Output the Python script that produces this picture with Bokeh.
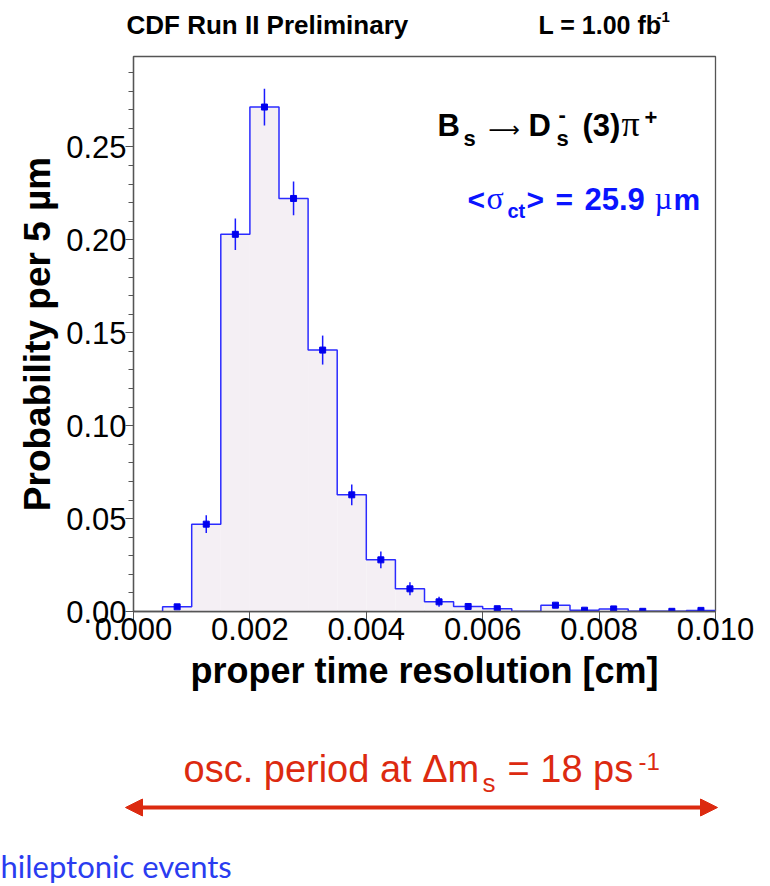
import numpy as np
from bokeh.plotting import figure
from bokeh.layouts import column
from bokeh.models import (Range1d, SingleIntervalTicker, NumeralTickFormatter,
                          Label, Arrow, NormalHead)
from bokeh.embed import file_html
from bokeh.resources import INLINE

# ---------------- data ----------------
bin_low = [0.0005, 0.0010, 0.0015, 0.0020, 0.0025, 0.0030, 0.0035, 0.0040,
           0.0045, 0.0050, 0.0055, 0.0060, 0.0065, 0.0070, 0.0075, 0.0080,
           0.0085, 0.0090, 0.0095]
bin_width = 0.0005
probability = [0.0025, 0.0470, 0.2030, 0.2715, 0.2223, 0.1407, 0.0628, 0.0278,
               0.0122, 0.0052, 0.0027, 0.0015, 0.0000, 0.0034, 0.0007, 0.0014,
               0.0001, 0.0001, 0.0006]
prob_error = [0.0008, 0.0048, 0.0085, 0.0099, 0.0091, 0.0078, 0.0056, 0.0045,
              0.0035, 0.0027, 0.0018, 0.0012, 0.0000, 0.0015, 0.0006, 0.0010,
              0.0000, 0.0000, 0.0006]
x_tick_interval = 0.002
y_tick_interval = 0.05
x_max = 0.010
y_max = 0.2987

# ---------------- layout (page pixels) ----------------
W = 770
H_TOP, H_MAIN, H_BOT = 50, 670, 166
FL, FR, FT, FB = 133, 715, 56, 611
FW, FH = FR - FL, FB - FT
BASE_FIX = 0.38   # label baseline correction, in em


def dx(X):
    return (X - FL) / FW * x_max


def dy(Y):
    return (FB - Y) / FH * y_max


def blank(height, y0):
    f = figure(width=W, height=height, x_range=Range1d(0, W),
               y_range=Range1d(y0 + height, y0), x_axis_type=None, y_axis_type=None,
               output_backend="svg", toolbar_location=None, min_border=0,
               frame_align=False)
    f.outline_line_color = None
    f.grid.grid_line_color = None
    f.background_fill_color = "white"
    f.border_fill_color = "white"
    return f


top = blank(H_TOP, 0)
bot = blank(H_BOT, H_TOP + H_MAIN)

p = figure(width=W, height=H_MAIN, x_range=Range1d(0, x_max), y_range=Range1d(0, y_max),
           output_backend="svg", toolbar_location=None, frame_align=False,
           min_border_left=FL, min_border_right=W - FR,
           min_border_top=FT - H_TOP, min_border_bottom=H_TOP + H_MAIN - FB)
p.background_fill_color = "white"
p.border_fill_color = "white"
p.xgrid.grid_line_color = None
p.ygrid.grid_line_color = None
p.outline_line_color = "#555555"
p.outline_line_width = 1.3

lo = np.array(bin_low)
hi = lo + bin_width
val = np.array(probability)
err = np.array(prob_error)
ctr = lo + bin_width / 2

p.quad(left=lo, right=hi, bottom=0, top=val, fill_color="#f4eff4", line_color=None)
xs = [lo[0]]
ys = [0.0]
for a, b, v in zip(lo, hi, val):
    xs += [a, b]
    ys += [v, v]
p.line(xs, ys, line_color="#2b2bff", line_width=1.5)
m = val > 0
p.segment(x0=ctr[m], y0=(val - err)[m], x1=ctr[m], y1=(val + err)[m],
          line_color="#1a1aff", line_width=1.5)
p.scatter(ctr[m], val[m], marker="square", size=6, fill_color="#0000ee",
          line_color="#0000ee")

p.xaxis.ticker = SingleIntervalTicker(interval=x_tick_interval, num_minor_ticks=0)
p.xaxis.formatter = NumeralTickFormatter(format="0.000")
p.yaxis.ticker = SingleIntervalTicker(interval=y_tick_interval, num_minor_ticks=5)
p.yaxis.formatter = NumeralTickFormatter(format="0.00")
for ax in (p.xaxis[0], p.yaxis[0]):
    ax.axis_line_color = "#555555"
    ax.axis_line_width = 1.3
    ax.major_tick_line_color = "#555555"
    ax.minor_tick_line_color = "#555555"
    ax.major_tick_in = 0
    ax.minor_tick_in = 0
    ax.major_label_text_font = "Liberation Sans"
    ax.major_label_text_color = "black"
    ax.axis_label_text_font = "Liberation Sans"
    ax.axis_label_text_font_style = "bold"
    ax.axis_label_text_color = "black"
    ax.axis_label_text_font_size = "36px"
p.yaxis.major_tick_out = 8
p.yaxis.minor_tick_out = 5
p.yaxis.major_label_standoff = -1
p.yaxis.major_label_text_font_size = "31px"
p.yaxis.axis_label = "Probability per 5 µm"
p.yaxis.axis_label_text_font_size = "37px"
p.yaxis.axis_label_standoff = 5
p.xaxis.major_tick_out = 9
p.xaxis.major_label_standoff = -3
p.xaxis.major_label_text_font_size = "31px"
p.xaxis.axis_label = "proper time resolution [cm]"
p.xaxis.axis_label_standoff = 7


def put(fig, txt, x, Y, size, bold=False, color="black", font="Liberation Sans",
        to_y=lambda v: v):
    fig.add_layout(Label(x=x, y=to_y(Y - BASE_FIX * size), text=txt, text_font=font,
                         text_font_size=f"{size}px",
                         text_font_style="bold" if bold else "normal",
                         text_color=color, text_align="left",
                         text_baseline="alphabetic"))


def put_main(txt, X, Y, size, bold=False, color="black", font="Liberation Sans"):
    put(p, txt, dx(X), Y, size, bold, color, font, to_y=dy)


# header
put(top, "CDF Run II Preliminary", 126, 34, 26, True)
put(top, "L = 1.00 fb", 538, 34, 25, True)
put(top, "-1", 656, 22, 15, True)

# decay formula
put_main("B", 437, 137, 31, True)
put_main("s", 463, 146, 22, True)
put_main("⟶", 488, 137, 22, False, font="DejaVu Sans")
put_main("D", 528, 137, 31, True)
put_main("s", 556, 146, 22, True)
put_main("-", 558, 122, 22, True)
put_main("(3)", 582, 137, 31, True)
put_main("π", 621, 137, 36, False, font="Liberation Serif")
put_main("+", 644, 125, 22, True)

# resolution
BLUE = "#0a14ff"
put_main("<", 467, 210, 30, True, BLUE)
put_main("σ", 486, 210, 32, False, BLUE, "Liberation Serif")
put_main("ct", 507, 218, 20, True, BLUE)
put_main(">", 526, 210, 30, True, BLUE)
put_main("=", 555, 210, 30, True, BLUE)
put_main("25.9", 584, 210, 31, True, BLUE)
put_main("µ", 654, 210, 31, False, BLUE, "Liberation Serif")
put_main("m", 673, 210, 30, True, BLUE)

# oscillation period annotation
RED = "#dc2a10"
put(bot, "osc. period at Δm", 183, 783, 38, False, RED)
put(bot, "s", 482, 792, 26, False, RED)
put(bot, "= 18 ps", 507, 783, 38, False, RED)
put(bot, "-1", 638, 770, 24, False, RED)
bot.add_layout(Arrow(start=NormalHead(size=17, fill_color=RED, line_color=RED),
                     end=NormalHead(size=17, fill_color=RED, line_color=RED),
                     x_start=125, y_start=807, x_end=717, y_end=807,
                     line_color=RED, line_width=4))
put(bot, "hileptonic events", 0, 877, 31, False, "#2a3cf0", "Lato")

layout = column(top, p, bot, spacing=0)
open("out.html", "w").write(file_html(layout, INLINE))
